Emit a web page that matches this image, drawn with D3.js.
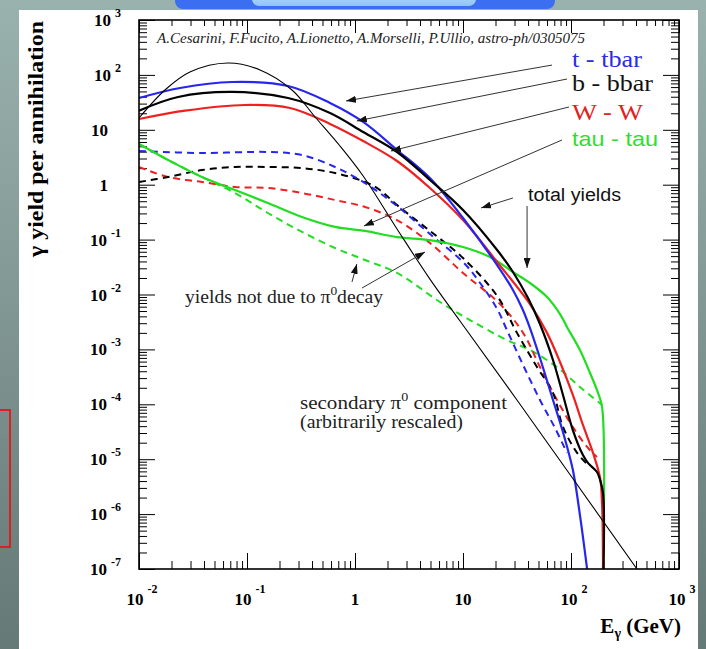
<!DOCTYPE html>
<html>
<head>
<meta charset="utf-8">
<script src="https://cdn.jsdelivr.net/npm/d3@7"></script>
<style>
  body { margin: 0; background: #7f9794; }
  text { font-family: "Liberation Serif", "DejaVu Serif", serif; }
</style>
</head>
<body>
<svg id="mainsvg" width="706" height="649"></svg>
<script>
// ---- data: [E (GeV), gamma yield per annihilation] ----
const tbarTotal = [[0.01,37.9],[0.024,57.7],[0.0726,74.3],[0.24,62.8],[0.587,30.8],[1.19,13.9],[2.45,4.29],[4.94,1.32],[10,0.247],[20.7,0.0344],[29.0,0.0121],[35.2,0.00567],[41.7,0.00245],[51.6,0.000697],[68.1,1.2e-4],[84.3,3.1e-5],[104,6.4e-6],[121,9.6e-7],[141,1e-7]];
const bbarTotal = [[0.01,22.3],[0.023,39.6],[0.0726,48.9],[0.24,37.9],[0.587,20.2],[1.19,9.12],[2.45,3.94],[4.94,1.22],[10,0.346],[20.7,0.0646],[29.0,0.0257],[40.0,0.00863],[51.6,0.0029],[68.1,6.41e-4],[84.3,1.48e-4],[104,3.4e-5],[129,1.19e-5],[144,8.5e-6],[174,5.85e-6],[186,4.18e-6],[198,2.42e-6],[200,1e-7]];
const wwTotal = [[0.01,15.7],[0.0267,22.3],[0.0957,28.3],[0.25,24.9],[0.587,12.8],[1.19,6.25],[2.45,2.70],[4.94,0.871],[10,0.227],[20.7,0.0391],[41.7,0.00671],[60.0,0.0020],[79.1,5.89e-4],[104,1.48e-4],[129,4.2e-5],[160,1.3e-5],[186,4.55e-6],[194,1.47e-6],[198,1e-7]];
const tautauTotal = [[0.01,5.51],[0.0186,2.82],[0.0383,1.38],[0.0774,0.801],[0.156,0.464],[0.323,0.258],[0.653,0.170],[1.24,0.144],[2.45,0.111],[4.94,0.098],[10,0.0733],[17.8,0.0482],[29.0,0.0257],[41.7,0.0162],[60.0,0.0090],[79.1,0.0044],[91.8,0.00256],[121,9.75e-4],[150,3.72e-4],[178,1.61e-4],[194,8.9e-5],[198,1e-7]];

const tbarNonPi0 = [[0.01,4.11],[0.0383,3.78],[0.156,3.94],[0.323,3.47],[0.653,2.10],[1.24,1.07],[2.45,0.409],[4.94,0.126],[10,0.0391],[14.4,0.0162],[20.7,0.00545],[25.5,0.00225],[36.0,5.2e-4],[51.6,1.2e-4],[71.1,3.7e-5],[91.8,1.3e-5]];
const bbarNonPi0 = [[0.01,1.12],[0.0186,1.38],[0.0383,1.85],[0.0774,2.10],[0.156,2.10],[0.323,2.01],[0.653,1.63],[1.24,1.12],[1.70,0.801],[2.45,0.426],[4.94,0.144],[10,0.0462],[20.7,0.0094],[31.6,0.0020],[48.4,4.78e-4],[68.1,1.61e-4],[84.3,3.86e-5],[114,1.3e-5],[144,7.8e-6]];
const wwNonPi0 = [[0.01,2.10],[0.0186,1.38],[0.0383,1.12],[0.0774,0.908],[0.156,0.871],[0.323,0.706],[0.653,0.526],[1.24,0.392],[2.45,0.227],[4.94,0.0867],[10,0.0247],[22.0,0.0067],[36.0,0.0020],[51.6,4.78e-4],[74.1,1.2e-4],[104,3.86e-5],[141,1.67e-5],[174,1.1e-5]];
const tautauNonPi0 = [[0.01,5.51],[0.0186,2.82],[0.0383,1.38],[0.0774,0.706],[0.156,0.305],[0.323,0.138],[0.653,0.0703],[1.24,0.0425],[2.45,0.0247],[6.12,0.0073],[11.6,0.00343],[25.5,0.00148],[41.7,9.75e-4],[74.1,4.78e-4],[121,2.07e-4],[194,9.7e-5]];

const secondaryPi0 = [[0.01,16.4],[0.0174,53.1],[0.0296,113],[0.0667,165],[0.132,123],[0.261,53.1],[0.427,17.1],[0.726,5.07],[1.19,1.44],[2.45,0.156],[4.94,0.0191],[9.38,0.00329],[31.6,1.2e-4],[408,1e-7]];

// tick values
const xDecades = [1e-2, 1e-1, 1, 10, 1e2, 1e3];
const yDecades = [1e-7, 1e-6, 1e-5, 1e-4, 1e-3, 1e-2, 1e-1, 1, 10, 1e2, 1e3];

// legend / annotation texts
const legendNames = ['t - tbar', 'b - bbar', 'W - W', 'tau - tau'];
const citation = 'A.Cesarini, F.Fucito, A.Lionetto, A.Morselli, P.Ullio, astro-ph/0305075';

// arrows [from, to] in data coordinates
const arrowPairs = [
  [[66.7,151],[0.826,33.5]],
  [[91.8,84.1],[1.04,14.5]],
  [[95.7,26.0],[2.15,4.11]],
  [[82.5,6.52],[1.21,0.177]],
  [[29.0,0.573],[14.7,0.377]],
  [[39.2,0.409],[39.2,0.0304]],
  [[0.938,0.0169],[1.04,0.036]],
  [[1.16,0.0131],[4.45,0.0594]]
];

const BLUE = '#2626ee', BLACK = '#000', RED = '#ee2020', GREEN = '#22dd22';

const svg = d3.select('#mainsvg');
const plot = {left: 139, right: 679, top: 20, bottom: 569};

const x = d3.scaleLog().domain([1e-2, 1e3]).range([plot.left, plot.right]);
const y = d3.scaleLog().domain([1e-7, 1e3]).range([plot.bottom, plot.top]);

const defs = svg.append('defs');
const bg = defs.append('linearGradient').attr('id', 'bggrad').attr('x1', 0).attr('y1', 0).attr('x2', 0).attr('y2', 1);
bg.append('stop').attr('offset', '0%').attr('stop-color', '#9ab2ae');
bg.append('stop').attr('offset', '100%').attr('stop-color', '#657976');
const tab = defs.append('linearGradient').attr('id', 'tabgrad').attr('x1', 0).attr('y1', 0).attr('x2', 0).attr('y2', 1);
tab.append('stop').attr('offset', '0%').attr('stop-color', '#c8e4fb');
tab.append('stop').attr('offset', '100%').attr('stop-color', '#8fc4f6');
defs.append('clipPath').attr('id', 'plotclip').append('rect')
  .attr('x', plot.left).attr('y', plot.top)
  .attr('width', plot.right - plot.left).attr('height', plot.bottom - plot.top);
defs.append('marker').attr('id', 'arrow')
  .attr('viewBox', '0 0 10 7').attr('refX', 10).attr('refY', 3.5)
  .attr('markerWidth', 10).attr('markerHeight', 7)
  .attr('markerUnits', 'userSpaceOnUse').attr('orient', 'auto')
  .append('path').attr('d', 'M0,0L10,3.5L0,7Z').attr('fill', '#111');

// slide background
svg.append('rect').attr('width', 706).attr('height', 649).attr('fill', 'url(#bggrad)');
svg.append('rect').attr('x', 175).attr('y', -12).attr('width', 380).attr('height', 21).attr('rx', 8).attr('fill', '#3b6ef0');
svg.append('rect').attr('x', 252).attr('y', -12).attr('width', 224).attr('height', 18).attr('rx', 7).attr('fill', 'url(#tabgrad)');
svg.append('rect').attr('x', 19).attr('y', 10).attr('width', 679).attr('height', 645).attr('fill', '#fff');
svg.append('rect').attr('x', -5).attr('y', 410).attr('width', 15).attr('height', 137)
  .attr('fill', 'none').attr('stroke', '#e8141b').attr('stroke-width', 1.8);

// ticks: major and minor, all pointing inward
const minors = (decs) => decs.slice(0, -1).flatMap(d => d3.range(2, 10).map(k => k * d));
function ticks(axis, tr, values, size) {
  svg.append('g').attr('transform', tr)
    .call(axis.tickValues(values).tickSize(size).tickFormat(() => ''))
    .call(g => g.select('.domain').remove())
    .selectAll('line').attr('stroke', '#000').attr('stroke-width', 1);
}
ticks(d3.axisRight(y), `translate(${plot.left},0)`, yDecades, 16);
ticks(d3.axisRight(y), `translate(${plot.left},0)`, minors(yDecades), 8);
ticks(d3.axisLeft(y), `translate(${plot.right},0)`, yDecades, 16);
ticks(d3.axisLeft(y), `translate(${plot.right},0)`, minors(yDecades), 8);
ticks(d3.axisTop(x), `translate(0,${plot.bottom})`, xDecades, 16);
ticks(d3.axisTop(x), `translate(0,${plot.bottom})`, minors(xDecades), 8);
ticks(d3.axisBottom(x), `translate(0,${plot.top})`, xDecades, 13);
ticks(d3.axisBottom(x), `translate(0,${plot.top})`, minors(xDecades), 6);

// curves
const line = d3.line().x(d => x(d[0])).y(d => y(d[1])).curve(d3.curveCatmullRom.alpha(0.5));
const curves = [
  {data: tautauNonPi0, color: GREEN, dash: '7,5', w: 2},
  {data: wwNonPi0, color: RED, dash: '7,5', w: 2},
  {data: bbarNonPi0, color: BLACK, dash: '7,5', w: 2},
  {data: tbarNonPi0, color: BLUE, dash: '7,5', w: 2},
  {data: tautauTotal, color: GREEN, dash: null, w: 2.2},
  {data: wwTotal, color: RED, dash: null, w: 2.2},
  {data: tbarTotal, color: BLUE, dash: null, w: 2.2},
  {data: bbarTotal, color: BLACK, dash: null, w: 2.2},
  {data: secondaryPi0, color: BLACK, dash: null, w: 1.1}
];
const cg = svg.append('g').attr('clip-path', 'url(#plotclip)');
cg.selectAll('path').data(curves).enter().append('path')
  .attr('d', d => line(d.data))
  .attr('fill', 'none')
  .attr('stroke', d => d.color)
  .attr('stroke-width', d => d.w)
  .attr('stroke-dasharray', d => d.dash);

// frame
svg.append('rect').attr('x', plot.left).attr('y', plot.top)
  .attr('width', plot.right - plot.left).attr('height', plot.bottom - plot.top)
  .attr('fill', 'none').attr('stroke', '#000').attr('stroke-width', 1.6);

// arrows
svg.append('g').selectAll('line').data(arrowPairs).enter().append('line')
  .attr('x1', d => x(d[0][0])).attr('y1', d => y(d[0][1]))
  .attr('x2', d => x(d[1][0])).attr('y2', d => y(d[1][1]))
  .attr('stroke', '#333').attr('stroke-width', 1)
  .attr('marker-end', 'url(#arrow)');

// tick labels
const expOf = v => Math.round(Math.log10(v));
const yl = svg.append('g').attr('font-weight', 'bold').attr('font-size', 17);
yDecades.forEach(v => {
  const e = expOf(v);
  const t = yl.append('text').attr('y', y(v) + 6).attr('text-anchor', 'end');
  if (e === 0 || e === 1) {
    t.attr('x', 108).text(e === 0 ? '1' : '10');
  } else {
    t.attr('x', 121);
    t.append('tspan').text('10');
    t.append('tspan').attr('dx', 4).attr('dy', -9).attr('font-size', 12).text(e);
  }
});
const xl = svg.append('g').attr('font-weight', 'bold').attr('font-size', 17);
xDecades.forEach(v => {
  const e = expOf(v);
  const t = xl.append('text').attr('y', 605).attr('text-anchor', 'middle');
  if (e === 0 || e === 1) {
    t.attr('x', x(v)).text(e === 0 ? '1' : '10');
  } else {
    t.attr('x', x(v) + 3);
    t.append('tspan').text('10');
    t.append('tspan').attr('dx', 4).attr('dy', -12).attr('font-size', 12).text(e);
  }
});

// axis titles
const xt = svg.append('text').attr('x', 681).attr('y', 633).attr('text-anchor', 'end')
  .attr('font-weight', 'bold').attr('font-size', 21);
xt.append('tspan').text('E');
xt.append('tspan').attr('dy', 5).attr('font-size', 14).text('γ');
xt.append('tspan').attr('dy', -5).text(' (GeV)');

svg.append('text').attr('transform', 'translate(43,139) rotate(-90)')
  .attr('text-anchor', 'middle').attr('font-weight', 'bold').attr('font-size', 22)
  .attr('textLength', 236).attr('lengthAdjust', 'spacingAndGlyphs')
  .text('γ yield per annihilation');

// citation
svg.append('text').attr('x', 157).attr('y', 43).attr('font-style', 'italic').attr('font-size', 14)
  .attr('textLength', 428).attr('lengthAdjust', 'spacingAndGlyphs').attr('fill', '#222')
  .text(citation);

// legend labels
const legendStyle = [
  {y: 67, color: '#2b2be6', len: 70, sans: false},
  {y: 91, color: '#111', len: 81, sans: false},
  {y: 120, color: '#e32020', len: 71, sans: false},
  {y: 146, color: '#2ee02e', len: 86, sans: true}
];
legendNames.forEach((n, i) => {
  const s = legendStyle[i];
  svg.append('text').attr('x', 572).attr('y', s.y)
    .attr('font-size', s.sans ? 21 : 24)
    .style('font-family', s.sans ? '"Liberation Sans", Arial, sans-serif' : null)
    .attr('fill', s.color)
    .attr('textLength', s.len).attr('lengthAdjust', 'spacingAndGlyphs')
    .text(n);
});

svg.append('text').attr('x', 528).attr('y', 201).attr('font-size', 18)
  .style('font-family', '"Liberation Sans", Arial, sans-serif').attr('fill', '#111')
  .attr('textLength', 93).attr('lengthAdjust', 'spacingAndGlyphs')
  .text('total yields');

const nd = svg.append('text').attr('x', 185).attr('y', 303).attr('font-size', 19).attr('fill', '#222')
  .attr('textLength', 198).attr('lengthAdjust', 'spacingAndGlyphs');
nd.append('tspan').text('yields not due to π');
nd.append('tspan').attr('dy', -8).attr('font-size', 13).text('0');
nd.append('tspan').attr('dy', 8).text('decay');

const sc = svg.append('text').attr('x', 300).attr('y', 409).attr('font-size', 18).attr('fill', '#222')
  .attr('textLength', 207).attr('lengthAdjust', 'spacingAndGlyphs');
sc.append('tspan').text('secondary π');
sc.append('tspan').attr('dy', -8).attr('font-size', 12).text('0');
sc.append('tspan').attr('dy', 8).text(' component');
svg.append('text').attr('x', 300).attr('y', 428).attr('font-size', 18).attr('fill', '#222')
  .attr('textLength', 163).attr('lengthAdjust', 'spacingAndGlyphs')
  .text('(arbitrarily rescaled)');
</script>
</body>
</html>
